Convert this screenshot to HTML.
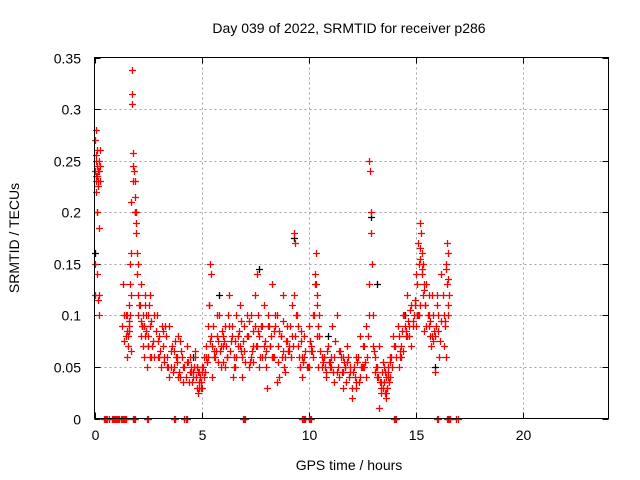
<!DOCTYPE html>
<html><head><meta charset="utf-8"><style>
body{margin:0;background:#fff;}
svg{display:block;font-family:"Liberation Sans",sans-serif;}
</style></head><body>
<svg id="chart" width="640" height="480" viewBox="0 0 640 480" xmlns="http://www.w3.org/2000/svg">
<text x="349" y="33" font-size="14" text-anchor="middle">Day 039 of 2022, SRMTID for receiver p286</text>
<text transform="translate(19,238) rotate(-90)" font-size="14" text-anchor="middle">SRMTID / TECUs</text>
<text x="349" y="470" font-size="14" text-anchor="middle">GPS time / hours</text>
<g id="grid"></g>
<g id="ticks"></g>
<g id="marks"></g>
<rect x="94.5" y="57.5" width="514" height="361" fill="none" stroke="#000" stroke-width="1"/>
</svg>
<script>
const xTicks=[0,5,10,15,20];
const yTicks=[0,0.05,0.1,0.15,0.2,0.25,0.3,0.35];
const yTickLabels=["0","0.05","0.1","0.15","0.2","0.25","0.3","0.35"];
const redT=[0.02,0.03,0.05,0.06,0.07,0.08,0.1,0.12,0.14,0.15,0.17,0.2,0.22,0.25,0.04,0.09,0.11,0.16,0.19,0.23,
1.3,1.35,1.4,1.45,1.5,1.5,1.55,1.6,1.6,1.65,1.7,1.72,1.74,1.75,1.76,1.78,1.8,1.82,1.85,1.88,1.9,1.92,1.95,1.98,2.0,2.02,2.05,2.1,2.15,2.2,
2.25,2.3,2.35,2.4,2.45,2.5,2.55,2.6,2.7,2.8,2.9,3.0,3.1,3.2,3.3,3.4,3.5,3.6,3.7,3.8,3.9,4.0,4.1,4.2,4.3,4.4,4.5,4.6,4.7,4.8,4.85,4.9,4.95,5.0,5.1,5.2,
1.4,1.6,1.7,2.3,2.5,2.6,2.8,3.0,3.2,3.4,3.5,3.7,3.9,4.0,4.3,4.5,4.7,4.8,5.0,5.2,
5.3,5.4,5.45,5.5,5.6,5.7,5.8,5.9,6.0,6.1,6.2,6.3,6.4,6.5,6.6,6.7,6.8,6.9,7.0,7.1,7.2,7.3,7.4,7.5,7.6,7.7,7.8,7.9,8.0,8.1,8.2,8.3,8.4,8.5,8.6,8.7,8.8,8.9,9.0,9.1,9.2,9.3,9.35,9.4,9.5,9.6,9.7,9.8,9.9,
5.3,5.5,5.7,5.9,6.1,6.3,6.5,6.7,6.9,7.1,7.3,7.5,7.7,7.9,8.1,8.3,8.5,8.7,8.9,9.1,9.3,9.5,9.7,
5.35,5.65,6.05,6.45,6.85,7.25,7.65,8.05,8.45,8.85,9.25,9.65,
10.0,10.1,10.2,10.3,10.35,10.4,10.5,10.6,10.7,10.8,10.9,11.0,11.1,11.2,11.3,11.4,11.5,11.6,11.7,11.8,11.9,12.0,12.1,12.2,12.3,12.4,12.5,12.6,12.7,12.8,12.85,12.9,12.95,13.0,13.1,13.2,13.3,13.4,13.5,13.6,13.7,13.8,13.9,14.0,
10.0,10.2,10.4,10.6,10.8,11.0,11.2,11.4,11.6,11.8,12.0,12.2,12.4,12.6,12.8,13.0,13.2,13.4,13.6,13.8,
10.3,10.5,11.7,12.7,12.9,13.3,13.5,13.7,
14.1,14.2,14.3,14.4,14.5,14.6,14.7,14.8,14.9,15.0,15.1,15.2,15.25,15.3,15.35,15.4,15.5,15.6,15.7,15.8,15.9,16.0,16.1,16.2,16.3,16.4,16.45,16.5,16.55,
14.2,14.4,14.6,14.8,15.0,15.2,15.4,15.6,15.8,16.0,16.2,16.4,14.3,14.7,15.1,15.5,15.9,16.3,15.2,15.3,16.5,16.5,
0.45,0.55,0.8,0.9,1.0,1.1,1.3,1.4,1.45,1.85,2.45,3.75,4.25,7.0,9.7,9.85,10.05,14.05,16.0,16.45,16.55,16.9];
const redV=[0.27,0.24,0.23,0.28,0.25,0.22,0.26,0.2,0.245,0.23,0.24,0.185,0.24,0.26,0.15,0.235,0.14,0.115,0.1,0.12,
0.09,0.13,0.075,0.1,0.06,0.085,0.07,0.11,0.09,0.15,0.12,0.21,0.305,0.338,0.315,0.257,0.23,0.245,0.24,0.2,0.215,0.2,0.19,0.16,0.14,0.12,0.1,0.11,0.08,0.09,
0.07,0.06,0.12,0.1,0.05,0.08,0.11,0.09,0.07,0.06,0.1,0.08,0.05,0.07,0.09,0.06,0.04,0.07,0.05,0.06,0.08,0.04,0.06,0.05,0.07,0.035,0.05,0.04,0.06,0.03,0.025,0.045,0.035,0.05,0.04,0.06,
0.1,0.085,0.065,0.09,0.07,0.12,0.1,0.06,0.085,0.05,0.09,0.065,0.04,0.075,0.055,0.045,0.065,0.05,0.03,0.07,
0.09,0.15,0.14,0.07,0.06,0.08,0.1,0.05,0.07,0.09,0.06,0.12,0.08,0.05,0.1,0.07,0.11,0.06,0.09,0.08,0.05,0.1,0.07,0.12,0.14,0.08,0.06,0.11,0.05,0.09,0.07,0.13,0.06,0.1,0.04,0.08,0.12,0.06,0.09,0.07,0.11,0.18,0.17,0.1,0.07,0.05,0.06,0.08,0.05,
0.06,0.04,0.1,0.07,0.05,0.09,0.06,0.08,0.04,0.1,0.06,0.09,0.05,0.07,0.1,0.06,0.035,0.08,0.045,0.065,0.12,0.09,0.04,
0.11,0.065,0.075,0.04,0.095,0.055,0.085,0.03,0.09,0.05,0.07,0.085,
0.09,0.07,0.06,0.14,0.16,0.12,0.08,0.05,0.06,0.04,0.07,0.05,0.09,0.06,0.1,0.04,0.06,0.03,0.05,0.07,0.04,0.02,0.05,0.03,0.06,0.08,0.05,0.07,0.09,0.25,0.24,0.2,0.15,0.1,0.06,0.04,0.07,0.03,0.05,0.02,0.04,0.06,0.05,0.07,
0.05,0.1,0.08,0.06,0.045,0.055,0.035,0.065,0.045,0.055,0.03,0.06,0.04,0.05,0.13,0.07,0.05,0.035,0.025,0.04,
0.13,0.1,0.05,0.04,0.18,0.01,0.035,0.05,
0.06,0.08,0.07,0.1,0.09,0.12,0.08,0.11,0.1,0.14,0.17,0.19,0.18,0.16,0.15,0.13,0.09,0.12,0.07,0.1,0.08,0.11,0.06,0.14,0.1,0.15,0.17,0.16,0.12,
0.05,0.065,0.08,0.07,0.09,0.11,0.085,0.1,0.075,0.12,0.095,0.06,0.06,0.09,0.1,0.13,0.045,0.07,0.155,0.145,0.135,0.1,
0,0,0,0,0,0,0,0,0,0,0,0,0,0,0,0,0,0,0,0,0,0];
const extraT=[0.05,0.1,0.18,0.21,0.24,0.27,0.01,0.13,
1.5,1.55,1.62,1.68,1.72,1.9,1.95,2.05,2.12,2.18,2.25,2.32,2.38,2.42,2.48,2.52,2.58,2.65,2.75,2.85,2.95,3.05,3.15,3.25,3.35,3.45,3.55,3.65,3.75,3.85,3.95,4.05,4.15,4.25,4.35,4.45,4.55,4.65,4.75,4.82,4.88,4.92,4.98,5.05,5.15,5.25,
1.45,1.65,2.15,2.35,2.65,2.95,3.25,3.55,3.85,4.15,4.45,4.62,4.78,4.9,5.02,5.12,
5.33,5.42,5.55,5.62,5.75,5.85,5.95,6.02,6.15,6.25,6.35,6.42,6.55,6.62,6.75,6.82,6.95,7.05,7.15,7.22,7.35,7.42,7.55,7.62,7.75,7.82,7.95,8.02,8.15,8.22,8.35,8.42,8.55,8.62,8.75,8.82,8.95,9.05,9.15,9.22,9.45,9.55,9.62,9.75,9.82,9.95,
5.38,5.58,5.78,5.98,6.18,6.38,6.58,6.78,6.98,7.18,7.38,7.58,7.78,7.98,8.18,8.38,8.58,8.78,8.98,9.18,9.38,9.58,9.78,
10.05,10.15,10.25,10.32,10.38,10.45,10.55,10.65,10.75,10.85,10.95,11.05,11.15,11.25,11.35,11.45,11.55,11.65,11.75,11.85,11.95,12.05,12.15,12.25,12.35,12.45,12.55,12.65,12.75,12.82,13.05,13.15,13.25,13.35,13.42,13.45,13.48,13.55,13.62,13.65,13.72,13.75,13.85,13.95,
10.12,10.42,10.72,11.02,11.32,11.62,11.92,12.22,12.52,12.72,13.12,13.38,13.52,13.58,13.68,13.82,
14.05,14.15,14.25,14.35,14.45,14.55,14.65,14.75,14.85,14.95,15.05,15.15,15.22,15.28,15.32,15.38,15.45,15.55,15.65,15.75,15.85,15.95,16.05,16.15,16.25,16.35,16.42,16.48,16.52,
14.25,14.55,14.85,15.15,15.45,15.75,16.05,16.35,14.95,15.05,15.62,15.68,
0.5,0.6,0.7,0.85,0.95,1.05,1.15,1.25,1.35,1.42,1.47,1.8,1.87,2.5,3.7,4.2,4.3,6.95,7.05,9.75,9.8,10.0,10.1,14.0,14.1,16.05,16.5,16.6,16.95];
const extraV=[0.255,0.235,0.225,0.25,0.23,0.245,0.12,0.2,
0.1,0.08,0.095,0.13,0.16,0.23,0.18,0.15,0.11,0.13,0.1,0.09,0.11,0.085,0.07,0.1,0.06,0.095,0.075,0.085,0.06,0.065,0.09,0.055,0.08,0.05,0.065,0.045,0.075,0.055,0.045,0.065,0.05,0.04,0.055,0.045,0.035,0.05,0.04,0.045,0.03,0.04,0.03,0.05,0.045,0.055,
0.08,0.1,0.095,0.08,0.06,0.075,0.06,0.05,0.06,0.035,0.06,0.045,0.05,0.035,0.045,0.06,
0.11,0.08,0.09,0.06,0.075,0.065,0.085,0.055,0.07,0.1,0.065,0.09,0.075,0.06,0.085,0.065,0.075,0.055,0.08,0.095,0.065,0.085,0.07,0.1,0.06,0.09,0.075,0.065,0.09,0.08,0.06,0.1,0.07,0.085,0.06,0.095,0.075,0.065,0.09,0.08,0.1,0.06,0.075,0.055,0.065,0.05,
0.075,0.065,0.055,0.08,0.06,0.075,0.05,0.07,0.065,0.08,0.055,0.07,0.09,0.06,0.07,0.085,0.055,0.065,0.075,0.06,0.08,0.05,0.06,
0.075,0.065,0.1,0.13,0.11,0.09,0.065,0.055,0.05,0.065,0.055,0.06,0.045,0.075,0.05,0.065,0.045,0.055,0.035,0.06,0.05,0.045,0.04,0.055,0.035,0.05,0.07,0.055,0.08,0.1,0.065,0.05,0.04,0.035,0.045,0.03,0.055,0.025,0.04,0.03,0.045,0.035,0.06,0.08,
0.065,0.05,0.06,0.05,0.045,0.06,0.045,0.035,0.05,0.06,0.045,0.025,0.035,0.045,0.03,0.055,
0.07,0.09,0.065,0.085,0.1,0.08,0.095,0.105,0.09,0.11,0.13,0.15,0.165,0.14,0.12,0.125,0.11,0.1,0.095,0.12,0.085,0.09,0.1,0.075,0.12,0.095,0.145,0.13,0.11,
0.06,0.085,0.095,0.1,0.11,0.08,0.085,0.09,0.115,0.1,0.09,0.08,
0,0,0,0,0,0,0,0,0,0,0,0,0,0,0,0,0,0,0,0,0,0,0,0,0,0,0,0,0];
const blackT=[0.03,1.9,5.8,7.7,9.3,12.9,13.2,15.9,2.2,4.6,10.9,14.5];
const blackV=[0.16,0.2,0.12,0.145,0.175,0.195,0.13,0.05,0.09,0.06,0.08,0.1];
const X0=94.5,X1=608.5,Y0=418.5,Y1=57.5;
const xs=t=>X0+(X1-X0)*t/24;
const ys=v=>Y0-(Y0-Y1)*v/0.35;
const NS="http://www.w3.org/2000/svg";
const grid=document.getElementById('grid'),ticks=document.getElementById('ticks'),marks=document.getElementById('marks');
function mk(tag,attrs,parent){const e=document.createElementNS(NS,tag);for(const k in attrs)e.setAttribute(k,attrs[k]);parent.appendChild(e);return e;}
xTicks.forEach((t,i)=>{const x=Math.round(xs(t))+0.5;
 if(i>0){const g=mk('line',{x1:x,x2:x,y1:Y1,y2:Y0,stroke:'#a0a0a0','stroke-dasharray':'2,3'},grid);
 
 }
 const a=mk('line',{x1:x,x2:x,y1:Y0,y2:Y0-6,stroke:'#000'},ticks);
 
 
 const b=mk('line',{x1:x,x2:x,y1:Y1,y2:Y1+6,stroke:'#000'},ticks);
 
 
 const l=mk('text',{x:x,y:440,'font-size':14,'text-anchor':'middle'},ticks);l.textContent=String(t);
 
 });
yTicks.forEach((v,i)=>{const y=Math.round(ys(v))+0.5;
 if(i>0&&i<yTicks.length-1){const g=mk('line',{x1:X0,x2:X1,y1:y,y2:y,stroke:'#a0a0a0','stroke-dasharray':'2,3'},grid);
 
 }
 const a=mk('line',{x1:X0,x2:X0+6,y1:y,y2:y,stroke:'#000'},ticks);
 
 
 const b=mk('line',{x1:X1,x2:X1-6,y1:y,y2:y,stroke:'#000'},ticks);
 
 
 const l=mk('text',{x:81,y:y+5,'font-size':14,'text-anchor':'end'},ticks);l.textContent=yTickLabels[i];
 
 });
function plus(t,v,col,name){const x=Math.round(xs(t))+0.5,y=Math.round(ys(v))+0.5;
 const p=mk('path',{d:`M${x-3.5} ${y}H${x+3.5}M${x} ${y-3.5}V${y+3.5}`,stroke:col,'stroke-width':1.3,fill:'none'},marks);
 
 }
blackT.forEach((t,i)=>plus(t,blackV[i],'#000','black-point'));
redT.forEach((t,i)=>plus(t,redV[i],'#ff0000','red-point'));
extraT.forEach((t,i)=>plus(t,extraV[i],'#ff0000','red-point'));
</script>
</body></html>
